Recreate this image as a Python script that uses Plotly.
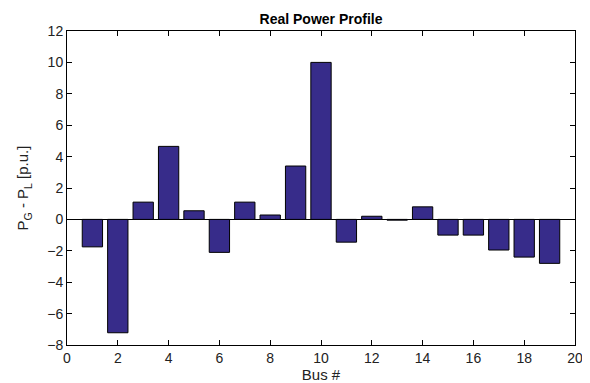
import plotly.graph_objects as go

buses = list(range(1, 20))
pg_minus_pl = [-1.75, -7.22, 1.1, 4.65, 0.55, -2.1, 1.1, 0.28, 3.4, 10.0,
               -1.45, 0.2, -0.05, 0.8, -1.0, -1.0, -1.95, -2.4, -2.8]
x_ticks = [0, 2, 4, 6, 8, 10, 12, 14, 16, 18, 20]
y_ticks = [-8, -6, -4, -2, 0, 2, 4, 6, 8, 10, 12]

FONT = "Liberation Sans, Arial, sans-serif"

fig = go.Figure()
fig.add_trace(go.Bar(
    x=buses, y=pg_minus_pl, width=0.8,
    marker=dict(color="#372c8a", line=dict(color="black", width=1)),
))

axis_common = dict(
    showline=True, linecolor="black", linewidth=1, mirror="ticks",
    ticks="inside", ticklen=5, tickcolor="black", showgrid=False,
    automargin=False,
    tickfont=dict(family=FONT, size=14, color="#222"),
)
fig.update_xaxes(range=[0, 20], tickvals=x_ticks, zeroline=False,
                 title=dict(text="Bus #", standoff=2,
                            font=dict(family=FONT, size=15, color="#222")),
                 **axis_common)
fig.update_yaxes(range=[-8, 12], tickvals=y_ticks, zeroline=True, zerolinecolor="black", zerolinewidth=1,
                 title=dict(text="P<sub>G</sub> - P<sub>L</sub> [p.u.]", standoff=14,
                            font=dict(family=FONT, size=15, color="#222")),
                 **axis_common)
fig.update_layout(
    width=590, height=383,
    margin=dict(l=59, r=23, t=23, b=46, autoexpand=False),
    paper_bgcolor="white", plot_bgcolor="white",
    showlegend=False,
    title=dict(text="<b>Real Power Profile</b>", xref="paper", x=0.5, xanchor="center",
               y=0.971, yanchor="middle",
               font=dict(family=FONT, size=14, color="black")),
)
fig.write_html("out.html")
